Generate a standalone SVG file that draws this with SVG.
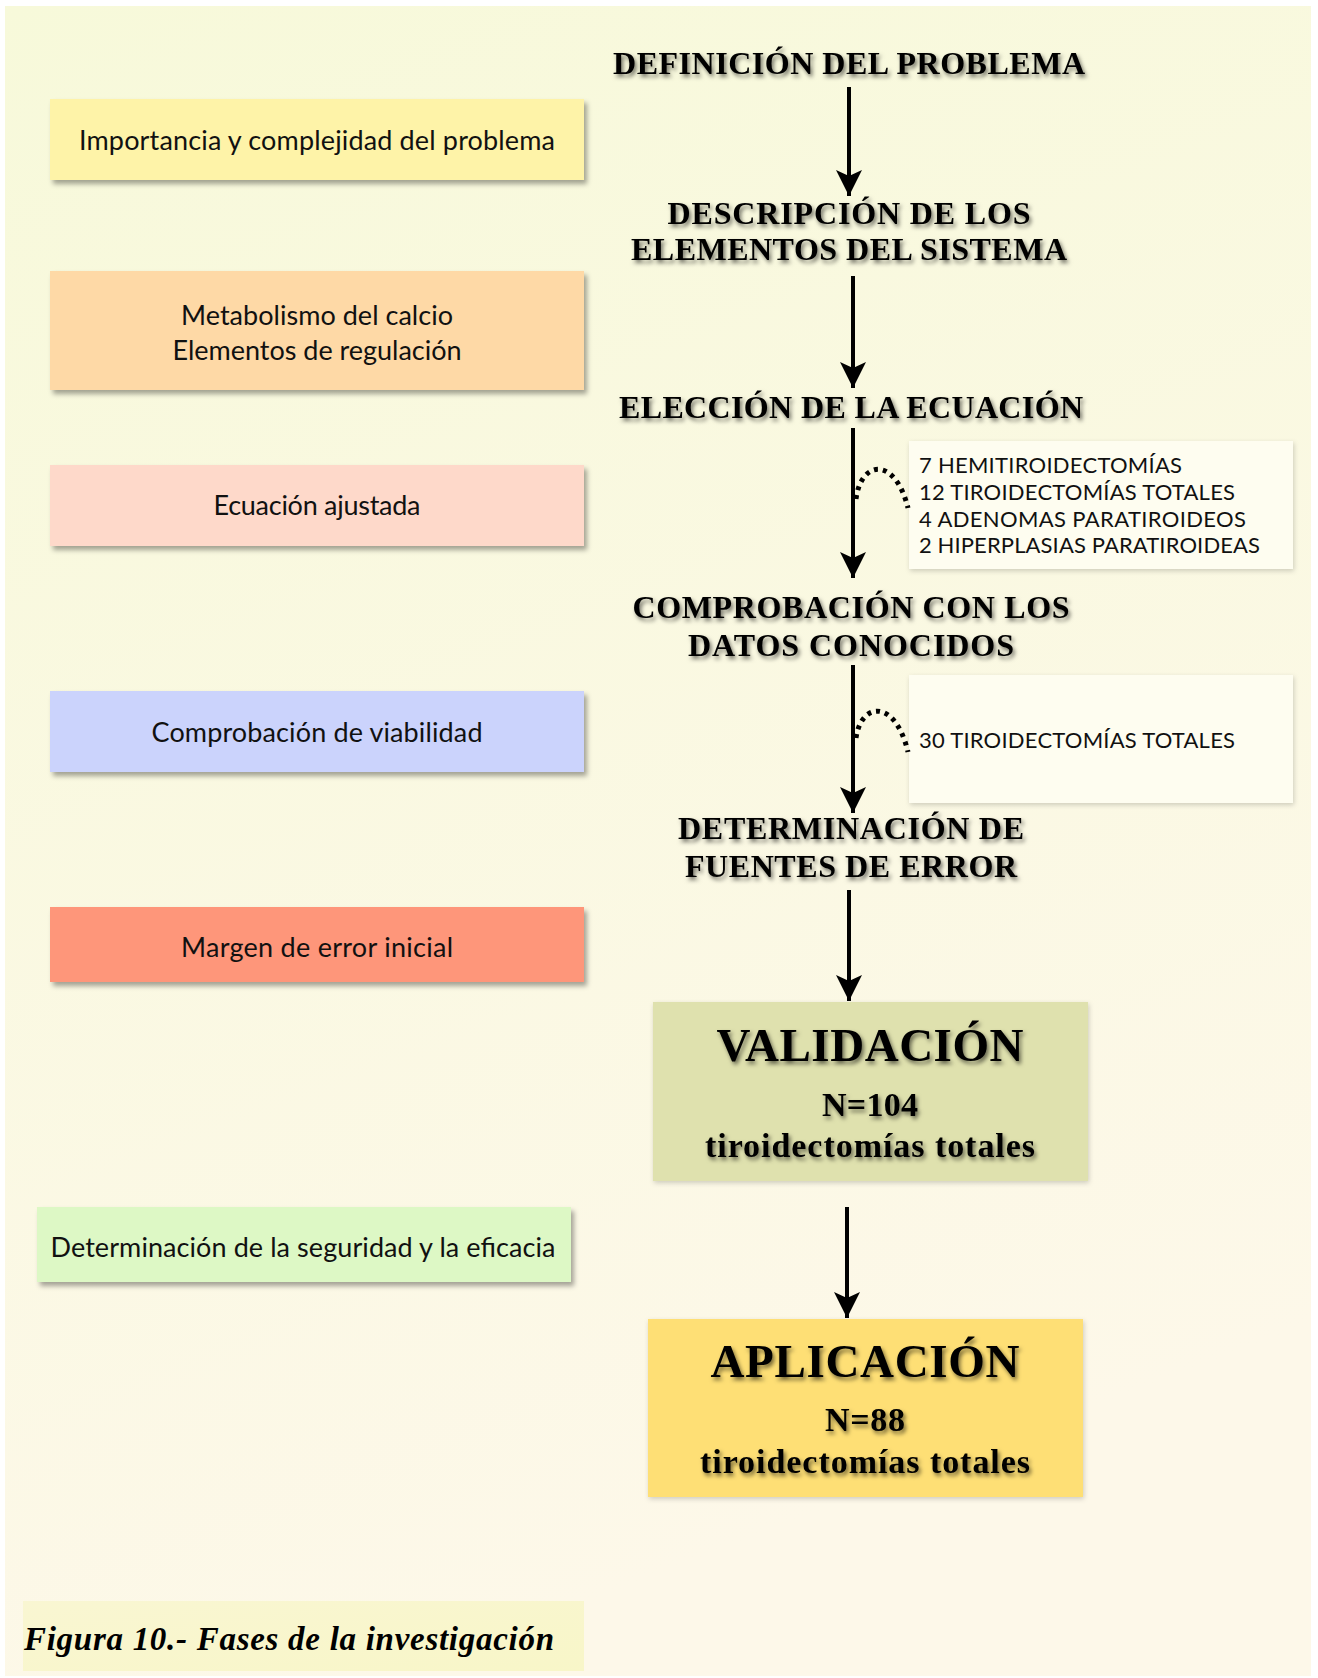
<svg xmlns="http://www.w3.org/2000/svg" width="1318" height="1678" viewBox="0 0 1318 1678">
<defs>
<linearGradient id="bg" x1="0" y1="0" x2="0.3" y2="1">
<stop offset="0" stop-color="#f7f9da"/>
<stop offset="1" stop-color="#fdf8e9"/>
</linearGradient>
<linearGradient id="capbg" x1="0" y1="0" x2="1" y2="1">
<stop offset="0" stop-color="#f9f6d2"/>
<stop offset="1" stop-color="#f8f6c8"/>
</linearGradient>
<filter id="boxsh" x="-5%" y="-10%" width="115%" height="130%">
<feDropShadow dx="3" dy="4" stdDeviation="2.5" flood-color="#000" flood-opacity="0.35"/>
</filter>
<filter id="softsh" x="-5%" y="-10%" width="115%" height="130%">
<feDropShadow dx="1" dy="2" stdDeviation="2.5" flood-color="#000" flood-opacity="0.18"/>
</filter>
<filter id="txtsh" x="-10%" y="-30%" width="120%" height="170%">
<feDropShadow dx="2" dy="3" stdDeviation="2" flood-color="#000" flood-opacity="0.55"/>
</filter>
<marker id="ah" markerUnits="userSpaceOnUse" viewBox="0 0 26 26" refX="26" refY="13" markerWidth="26" markerHeight="26" orient="auto">
<path d="M0,0 L26,13 L0,26 L6,13 Z" fill="#000"/>
</marker>
<style>
.side{font-family:Lato,"Open Sans","DejaVu Sans",sans-serif;font-size:27px;fill:#111;text-anchor:middle}
.list{font-family:Lato,"Open Sans","DejaVu Sans",sans-serif;font-size:22px;fill:#111}
.head{font-family:"Liberation Serif","Times New Roman",serif;font-weight:bold;font-size:32px;fill:#000;text-anchor:middle;filter:url(#txtsh)}
.big{font-family:"Liberation Serif","Times New Roman",serif;font-weight:bold;font-size:47px;fill:#000;text-anchor:middle;filter:url(#txtsh)}
.mid{font-family:"Liberation Serif","Times New Roman",serif;font-weight:bold;font-size:34px;fill:#000;text-anchor:middle;filter:url(#txtsh)}
.arrow{stroke:#000;stroke-width:4;fill:none;marker-end:url(#ah)}
.dots{stroke:#000;stroke-width:5;fill:none;stroke-dasharray:4 5}
.cap{font-family:"Liberation Serif","Times New Roman",serif;font-weight:bold;font-style:italic;font-size:33px;fill:#000}
</style>
</defs>
<rect x="0" y="0" width="1318" height="1678" fill="#ffffff"/>
<rect x="5" y="6" width="1306" height="1670" fill="url(#bg)"/>

<g id="box-importancia">
<rect x="50" y="99" width="534" height="81" fill="#fef3a8" filter="url(#boxsh)"/>
<text class="side" x="317" y="150" textLength="476">Importancia y complejidad del problema</text>
</g>
<g id="box-metabolismo">
<rect x="50" y="271" width="534" height="119" fill="#fed9a6" filter="url(#boxsh)"/>
<text class="side" x="317" y="325" textLength="272">Metabolismo del calcio</text>
<text class="side" x="317" y="360" textLength="289">Elementos de regulación</text>
</g>
<g id="box-ecuacion">
<rect x="50" y="465" width="534" height="81" fill="#fed9ca" filter="url(#boxsh)"/>
<text class="side" x="317" y="515" textLength="207">Ecuación ajustada</text>
</g>
<g id="box-viabilidad">
<rect x="50" y="691" width="534" height="81" fill="#cbd3fc" filter="url(#boxsh)"/>
<text class="side" x="317" y="742" textLength="331">Comprobación de viabilidad</text>
</g>
<g id="box-margen">
<rect x="50" y="907" width="534" height="75" fill="#fe967a" filter="url(#boxsh)"/>
<text class="side" x="317" y="957" textLength="272">Margen de error inicial</text>
</g>
<g id="box-seguridad">
<rect x="37" y="1207" width="534" height="75" fill="#ddf8c5" filter="url(#boxsh)"/>
<text class="side" x="303" y="1257" textLength="505">Determinación de la seguridad y la eficacia</text>
</g>

<g id="step-definicion">
<text class="head" x="849" y="74" textLength="472">DEFINICIÓN DEL PROBLEMA</text>
</g>
<g id="step-descripcion">
<text class="head" x="849" y="224" textLength="363">DESCRIPCIÓN DE LOS</text>
<text class="head" x="849" y="260" textLength="436">ELEMENTOS DEL SISTEMA</text>
</g>
<g id="step-eleccion">
<text class="head" x="851" y="418" textLength="464">ELECCIÓN DE LA ECUACIÓN</text>
</g>
<g id="step-comprobacion">
<text class="head" x="851" y="618" textLength="437">COMPROBACIÓN CON LOS</text>
<text class="head" x="851" y="656" textLength="326">DATOS CONOCIDOS</text>
</g>
<g id="step-fuentes">
<text class="head" x="851" y="839" textLength="346">DETERMINACIÓN DE</text>
<text class="head" x="851" y="877" textLength="332">FUENTES DE ERROR</text>
</g>

<g id="note-casos">
<rect x="909" y="441" width="384" height="128" fill="#fefdf0" filter="url(#softsh)"/>
<text class="list" x="919" y="473" textLength="263">7 HEMITIROIDECTOMÍAS</text>
<text class="list" x="919" y="500" textLength="316">12 TIROIDECTOMÍAS TOTALES</text>
<text class="list" x="919" y="527" textLength="327">4 ADENOMAS PARATIROIDEOS</text>
<text class="list" x="919" y="553" textLength="341">2 HIPERPLASIAS PARATIROIDEAS</text>
</g>
<g id="note-30">
<rect x="909" y="675" width="384" height="128" fill="#fefdf0" filter="url(#softsh)"/>
<text class="list" x="919" y="748" textLength="316">30 TIROIDECTOMÍAS TOTALES</text>
</g>

<g id="validacion">
<rect x="653" y="1002" width="435" height="179" fill="#dfe1ae" filter="url(#softsh)"/>
<text class="big" x="870" y="1061" textLength="307">VALIDACIÓN</text>
<text class="mid" x="870" y="1116" textLength="96">N=104</text>
<text class="mid" x="870" y="1157" textLength="330">tiroidectomías totales</text>
</g>
<g id="aplicacion">
<rect x="648" y="1319" width="435" height="178" fill="#fedf74" filter="url(#softsh)"/>
<text class="big" x="865" y="1377" textLength="309">APLICACIÓN</text>
<text class="mid" x="865" y="1431" textLength="80">N=88</text>
<text class="mid" x="865" y="1473" textLength="330">tiroidectomías totales</text>
</g>

<g id="connectors">
<line class="arrow" x1="849" y1="87" x2="849" y2="196"/>
<line class="arrow" x1="853" y1="276" x2="853" y2="388"/>
<line class="arrow" x1="853" y1="428" x2="853" y2="578"/>
<line class="arrow" x1="853" y1="665" x2="853" y2="813"/>
<line class="arrow" x1="849" y1="890" x2="849" y2="1001"/>
<line class="arrow" x1="847" y1="1207" x2="847" y2="1318"/>
<path class="dots" d="M856,499 C861,460 895,456 908,508"/>
<path class="dots" d="M856,738 C861,702 895,698 908,752"/>
</g>

<g id="caption">
<rect x="23" y="1601" width="561" height="70" fill="url(#capbg)"/>
<text class="cap" x="24" y="1650" textLength="530">Figura 10.- Fases de la investigación</text>
</g>
</svg>
